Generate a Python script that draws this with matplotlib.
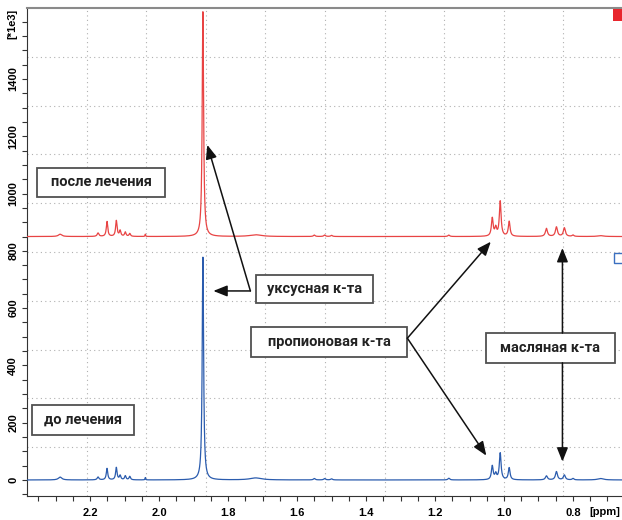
import numpy as np
import matplotlib
matplotlib.use("Agg")
import matplotlib.pyplot as plt
import matplotlib.transforms as mtransforms
from matplotlib.patches import Rectangle
from matplotlib.ticker import MultipleLocator

# ---------------- data ----------------
peak_ppm = [2.287, 2.177, 2.151, 2.124, 2.113, 2.098, 2.085, 2.040, 1.873,
            1.720, 1.550, 1.520, 1.500, 1.160, 1.034, 1.024, 1.011, 0.985,
            0.877, 0.848, 0.825, 0.800, 0.720]
after_heights = [8, 12, 52, 55, 20, 15, 10, 8, 785,
                 6, 5, 5, 4, 5, 63, 28, 122, 52,
                 28, 33, 30, 5, 3]
before_heights = [10, 10, 40, 43, 15, 14, 12, 8, 778,
                  7, 5, 5, 4, 6, 48, 20, 93, 42,
                  14, 29, 17, 5, 5]
peak_hwhm = [0.006, 0.003, 0.0025, 0.0025, 0.0025, 0.0025, 0.0025, 0.001, 0.0024,
             0.02, 0.003, 0.003, 0.003, 0.003, 0.003, 0.003, 0.003, 0.003,
             0.0035, 0.0035, 0.0035, 0.003, 0.01]
after_baseline = 850
before_baseline = 0

x_ticks = [2.2, 2.0, 1.8, 1.6, 1.4, 1.2, 1.0, 0.8]
x_tick_labels = ["2.2", "2.0", "1.8", "1.6", "1.4", "1.2", "1.0", "0.8"]
y_ticks = [0, 200, 400, 600, 800, 1000, 1200, 1400]
y_tick_labels = ["0", "200", "400", "600", "800", "1000", "1200", "1400"]

label_after = "после лечения"
label_before = "до лечения"
label_acetic = "уксусная к-та"
label_propionic = "пропионовая к-та"
label_butyric = "масляная к-та"

# ---------------- figure ----------------
W, H = 622, 520
plt.rcParams["font.family"] = ["Liberation Sans", "DejaVu Sans"]
fig = plt.figure(figsize=(W / 100, H / 100), dpi=100)
ax = fig.add_axes([27 / W, 1 - 496 / H, 596 / W, 488 / H])

ppm = np.linspace(2.383, 0.655, 8000)


def spectrum(base, heights):
    s = np.full_like(ppm, float(base))
    for p, h, w in zip(peak_ppm, heights, peak_hwhm):
        s += h / (1.0 + ((ppm - p) / w) ** 2)
    return s


ax.plot(ppm, spectrum(after_baseline, after_heights), color="#e84444", lw=0.9, zorder=3)
ax.plot(ppm, spectrum(before_baseline, before_heights), color="#2b5cae", lw=0.9, zorder=3)

ax.set_xlim(2.383, 0.655)
ax.set_ylim(-56, 1648)

# grid: equal divisions of the frame
for i in range(1, 10):
    ax.plot([i / 10, i / 10], [0, 1], transform=ax.transAxes, color="#b0b0b0",
            lw=0.8, ls=(0, (1, 3)), zorder=1)
    ax.plot([0, 1], [i / 10, i / 10], transform=ax.transAxes, color="#b0b0b0",
            lw=0.8, ls=(0, (1, 3)), zorder=1)

# ticks
ax.set_xticks(x_ticks)
ax.set_xticklabels(x_tick_labels, fontsize=8, fontweight="bold")
ax.xaxis.set_minor_locator(MultipleLocator(0.05))
ax.set_yticks(y_ticks)
ax.set_yticklabels(y_tick_labels, fontsize=8, fontweight="bold",
                   rotation=90, va="center")
ax.yaxis.set_minor_locator(MultipleLocator(50))
ax.tick_params(axis="both", which="both", direction="out", length=3.8,
               width=0.8, color="#333333")
ax.tick_params(axis="x", which="major", pad=4.8)
ax.tick_params(axis="y", which="major", pad=2.5)

ax.spines["right"].set_visible(False)
ax.spines["top"].set_color("#8a8a8a")
ax.spines["top"].set_linewidth(1.5)
ax.spines["left"].set_color("#333333")
ax.spines["bottom"].set_color("#333333")

fig.text(12 / W, 1 - 24 / H, "[*1e3]", rotation=90, ha="center", va="center",
         fontsize=8, fontweight="bold")
fig.text(605 / W, 1 - 512 / H, "[ppm]", ha="center", va="center",
         fontsize=8, fontweight="bold")

# spectrum markers at right edge
ax.add_patch(Rectangle((586 / 596, (496 - 21) / 488), 10 / 596, 12 / 488,
                       transform=ax.transAxes, facecolor="#e8262d",
                       edgecolor="none", clip_on=False, zorder=5))
ax.add_patch(Rectangle((587 / 596, (496 - 263) / 488), 9 / 596, 10 / 488,
                       transform=ax.transAxes, facecolor="white",
                       edgecolor="#3a6fc0", lw=1.0, clip_on=False, zorder=5))


# text boxes (centre in data coords, size in pixels)
def box(xd, yd, w, h, text):
    trans = mtransforms.Affine2D() + mtransforms.ScaledTranslation(xd, yd, ax.transData)
    ax.add_patch(Rectangle((-w / 2, -h / 2), w, h, transform=trans,
                           facecolor="white", edgecolor="#505050", lw=1.3,
                           zorder=6, clip_on=False))
    ax.text(xd, yd, text, ha="center", va="center", fontsize=10.5,
            fontweight="bold", family=["Roboto", "DejaVu Sans"],
            color="#222222", zorder=7)


box(2.168, 1039, 128, 29, label_after)
box(2.220, 209, 102, 30, label_before)
box(1.548, 667, 117, 28, label_acetic)
box(1.506, 482, 156, 30, label_propionic)
box(0.8654, 461, 129, 30, label_butyric)

ax.set_xlim(2.383, 0.655)
ax.set_ylim(-56, 1648)

arrow_kw = dict(arrowstyle="-|>,head_length=0.7,head_width=0.28",
                color="#111111", lw=1.1, shrinkA=0, shrinkB=0,
                mutation_scale=12)


def arrow(x0, y0, x1, y1):
    ax.annotate("", xy=(x1, y1), xytext=(x0, y0), xycoords="data",
                textcoords="data", arrowprops=arrow_kw, zorder=8)


# acetic acid
arrow(1.7353, 660, 1.8602, 1170)
arrow(1.7353, 660, 1.8428, 660)
# propionic acid
arrow(1.2802, 495, 1.0382, 832)
arrow(1.2802, 495, 1.0513, 85)
# butyric acid
arrow(0.8306, 513, 0.8306, 810)
arrow(0.8306, 409, 0.8306, 64)

fig.savefig("out.png", dpi=100)
